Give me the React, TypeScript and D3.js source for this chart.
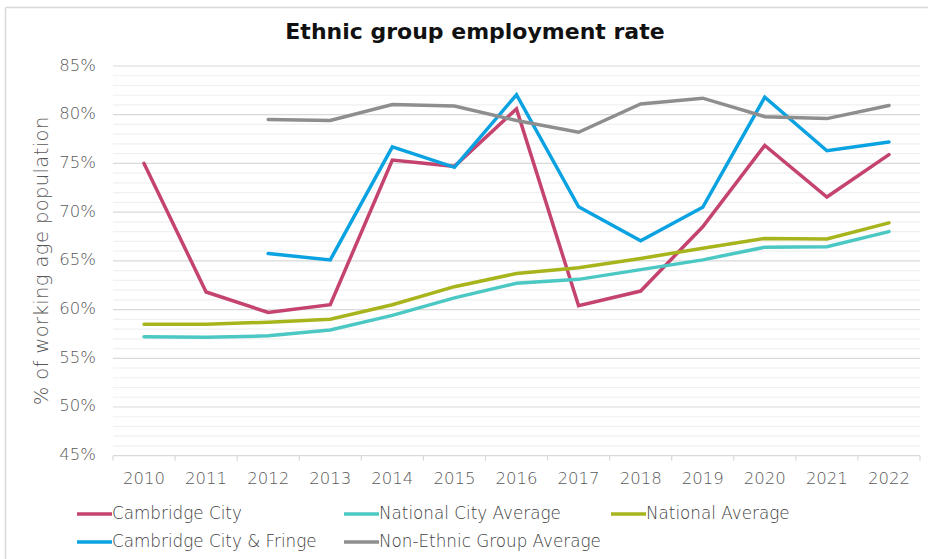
import React from "react";
import * as d3 from "d3";

const years = ["2010","2011","2012","2013","2014","2015","2016","2017","2018","2019","2020","2021","2022"];
const cambridgeCity = [75.0, 61.8, 59.7, 60.5, 75.35, 74.7, 80.6, 60.4, 61.9, 68.5, 76.85, 71.55, 75.9];
const nationalCityAverage = [57.2, 57.15, 57.3, 57.9, 59.4, 61.2, 62.7, 63.1, 64.1, 65.1, 66.4, 66.45, 68.0];
const nationalAverage = [58.5, 58.5, 58.7, 59.0, 60.5, 62.35, 63.7, 64.3, 65.25, 66.3, 67.3, 67.25, 68.9];
const cambridgeCityFringe = [null, null, 65.75, 65.1, 76.7, 74.6, 82.05, 70.55, 67.05, 70.5, 81.8, 76.3, 77.2];
const nonEthnicAverage = [null, null, 79.5, 79.4, 81.05, 80.9, 79.4, 78.2, 81.1, 81.7, 79.8, 79.6, 80.95];
const yTicks = [45, 50, 55, 60, 65, 70, 75, 80, 85];
const minorTicks = d3.range(45, 86, 1);

const seriesList = [
  { name: "Cambridge City", values: cambridgeCity, color: "#C4436F" },
  { name: "National City Average", values: nationalCityAverage, color: "#4CC8C4" },
  { name: "National Average", values: nationalAverage, color: "#A8B41C" },
  { name: "Cambridge City & Fringe", values: cambridgeCityFringe, color: "#0BA2E2" },
  { name: "Non-Ethnic Group Average", values: nonEthnicAverage, color: "#8E8E8E" },
];

const legendPos = [
  { x: 77, y: 514 },
  { x: 344, y: 514 },
  { x: 611, y: 514 },
  { x: 77, y: 542 },
  { x: 344, y: 542 },
];

const FONT = "'DejaVu Sans', sans-serif";

export default function App() {
  const x = d3.scaleBand<string>().domain(years).range([113, 920]).padding(0);
  const y = d3.scaleLinear().domain([45, 85]).range([455.7, 66]);
  const cx = (yr: string) => (x(yr) as number) + x.bandwidth() / 2;

  const line = d3
    .line<number | null>()
    .defined((d) => d !== null)
    .x((_, i) => cx(years[i]))
    .y((d) => y(d as number));

  const boundaries = years.map((yr) => x(yr) as number).concat([920]);

  return (
    <svg
      width={928}
      height={559}
      style={{ position: "absolute", left: 0, top: 0, background: "#fff" }}
      fontFamily={FONT}
    >
      {/* frame */}
      <line x1={5.5} x2={928} y1={7.5} y2={7.5} stroke="#d9d9d9" strokeWidth={1.5} />
      <line x1={5.5} x2={5.5} y1={7.5} y2={559} stroke="#d9d9d9" strokeWidth={1.5} />

      <text x={475} y={33} textAnchor="middle" dominantBaseline="middle" fontSize={22} fontWeight="bold" fill="#111">
        Ethnic group employment rate
      </text>

      {/* minor grid */}
      {minorTicks.filter((t) => t % 5 !== 0).map((t) => (
        <line key={"m" + t} x1={113} x2={920} y1={y(t)} y2={y(t)} stroke="#f0f0f0" strokeWidth={1.2} />
      ))}
      {/* major grid */}
      {yTicks.filter((t) => t !== 45).map((t) => (
        <line key={"g" + t} x1={113} x2={920} y1={y(t)} y2={y(t)} stroke="#d9d9d9" strokeWidth={1.2} />
      ))}
      {/* x axis */}
      <line x1={113} x2={920} y1={y(45)} y2={y(45)} stroke="#d9d9d9" strokeWidth={1.2} />
      {boundaries.map((b, i) => (
        <line key={"t" + i} x1={b} x2={b} y1={y(45)} y2={y(45) + 5} stroke="#d9d9d9" strokeWidth={1.2} />
      ))}

      {yTicks.map((t) => (
        <text key={"yl" + t} x={96} y={y(t)} textAnchor="end" dominantBaseline="middle" fontSize={16.5} fontWeight={200} fill="#595959">
          {t}%
        </text>
      ))}
      {years.map((yr) => (
        <text key={"xl" + yr} x={cx(yr)} y={479} textAnchor="middle" dominantBaseline="middle" fontSize={16.5} fontWeight={200} fill="#595959">
          {yr}
        </text>
      ))}

      <text
        transform={`translate(42,${y(65)}) rotate(-90)`}
        textAnchor="middle"
        dominantBaseline="middle"
        fontSize={19.5}
        fontWeight={200}
        letterSpacing={0.4}
        fill="#595959"
      >
        % of working age population
      </text>

      {seriesList.map((s) => (
        <path key={s.name} d={line(s.values) || ""} fill="none" stroke={s.color} strokeWidth={3.5} strokeLinejoin="miter" strokeLinecap="round" />
      ))}

      {seriesList.map((s, i) => (
        <g key={"lg" + s.name}>
          <line x1={legendPos[i].x} x2={legendPos[i].x + 35} y1={legendPos[i].y} y2={legendPos[i].y} stroke={s.color} strokeWidth={3.5} />
          <text x={legendPos[i].x + 35} y={legendPos[i].y} dominantBaseline="middle" fontSize={16.8} fontWeight={200} fill="#404040">
            {s.name}
          </text>
        </g>
      ))}
    </svg>
  );
}
